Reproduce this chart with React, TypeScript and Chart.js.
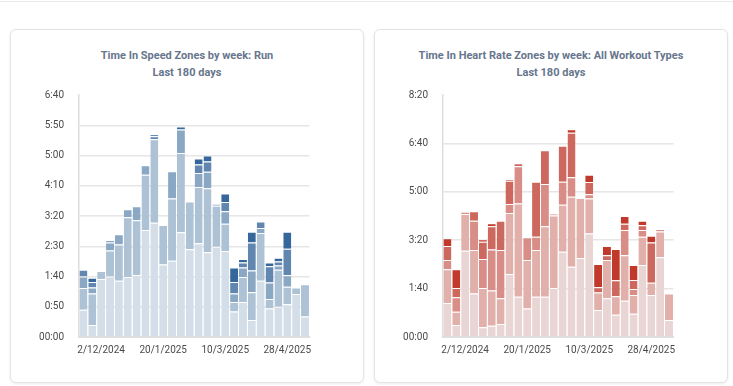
import React, { useEffect, useRef } from 'react';
import { Chart, registerables } from 'chart.js';

Chart.register(...registerables);

// Week start dates (categories)
const weekLabels = [
  '18/11/2024', '25/11/2024', '2/12/2024', '9/12/2024', '16/12/2024', '23/12/2024',
  '30/12/2024', '6/1/2025', '13/1/2025', '20/1/2025', '27/1/2025', '3/2/2025',
  '10/2/2025', '17/2/2025', '24/2/2025', '3/3/2025', '10/3/2025', '17/3/2025',
  '24/3/2025', '31/3/2025', '7/4/2025', '14/4/2025', '21/4/2025', '28/4/2025',
  '5/5/2025', '12/5/2025',
];
const shownLabels = ['2/12/2024', '20/1/2025', '10/3/2025', '28/4/2025'];

// Time in speed zones (minutes), Run
const speedZone1 = [45, 20, 96, 100, 93, 99, 102, 177, 189, 120, 126, 173, 145, 155, 140, 149, 142, 42, 58, 28, 93, 47, 50, 54, 71, 34];
const speedZone2 = [36, 52, 13, 43, 60, 99, 91, 91, 138, 65, 103, 131, 79, 93, 106, 68, 45, 16, 41, 46, 79, 16, 61, 29, 11, 53];
const speedZone3 = [19, 10, 0, 13, 17, 13, 23, 16, 0, 0, 45, 39, 0, 23, 27, 3, 21, 14, 16, 36, 8, 27, 7, 19, 0, 0];
const speedZone4 = [11, 9, 0, 4, 0, 0, 0, 0, 5, 0, 0, 0, 0, 14, 17, 0, 15, 19, 8, 46, 11, 27, 7, 44, 0, 0];
const speedZone5 = [0, 7, 0, 0, 0, 0, 0, 0, 3, 0, 0, 5, 0, 10, 10, 0, 14, 24, 6, 18, 0, 6, 6, 28, 0, 0];

// Time in heart rate zones (minutes), all workout types
const hrZone1 = [70, 25, 178, 90, 20, 23, 27, 130, 83, 59, 83, 83, 101, 176, 145, 163, 214, 56, 80, 46, 75, 48, 149, 87, 165, 35];
const hrZone2 = [70, 27, 76, 90, 81, 73, 53, 126, 193, 100, 97, 146, 150, 97, 145, 124, 72, 36, 79, 38, 94, 39, 58, 25, 53, 55];
const hrZone3 = [19, 30, 5, 60, 60, 85, 100, 19, 77, 47, 27, 87, 4, 48, 40, 0, 9, 0, 0, 0, 52, 12, 14, 0, 5, 0];
const hrZone4 = [29, 19, 0, 20, 36, 48, 60, 48, 6, 0, 114, 70, 0, 74, 92, 0, 25, 11, 10, 33, 13, 19, 10, 83, 0, 0];
const hrZone5 = [16, 39, 0, 0, 5, 6, 0, 3, 0, 0, 0, 0, 0, 0, 7, 0, 15, 48, 19, 65, 16, 31, 9, 14, 0, 0];

const speedColors = ['#d3dee8', '#adc2d5', '#8aa7c4', '#6187b0', '#36679a'];
const hrColors = ['#ead5d5', '#e1b0ab', '#d88e87', '#cc685e', '#c0392b'];

const fmt = (v: number) =>
  v === 0 ? '00:00' : `${Math.floor(v / 60)}:${String(v % 60).padStart(2, '0')}`;

const FONT = 'Roboto, "Noto Sans", sans-serif';

function StackedChart(props: {
  series: number[][];
  colors: string[];
  max: number;
  step: number;
  left: number;
}) {
  const ref = useRef<HTMLCanvasElement | null>(null);
  useEffect(() => {
    if (!ref.current) return;
    const datasets = props.series.map((d, i) => ({
      label: `Zone ${i + 1}`,
      data: d,
      backgroundColor: props.colors[i],
      borderColor: '#ffffff',
      borderWidth: { top: 1, left: 0, right: 0, bottom: 0 },
      borderSkipped: 'start' as const,
      barPercentage: 0.9,
      categoryPercentage: 1,
    }));
    const nTicks = props.max / props.step;
    const chart = new Chart(ref.current, {
      type: 'bar',
      data: { labels: weekLabels, datasets },
      options: {
        animation: false,
        responsive: false,
        maintainAspectRatio: false,
        layout: { padding: { top: 8, right: 0, bottom: 0, left: 0 } },
        plugins: {
          legend: { display: false },
          tooltip: { enabled: false },
          title: { display: false },
        },
        scales: {
          x: {
            stacked: true,
            grid: { display: false, drawTicks: false },
            border: { color: '#dedede', width: 2 },
            ticks: {
              autoSkip: false,
              maxRotation: 0,
              minRotation: 0,
              padding: 7,
              color: '#4a4a4a',
              font: { family: FONT, size: 10 },
              callback: (_v: any, i: number) =>
                shownLabels.includes(weekLabels[i]) ? weekLabels[i] : '',
            },
            afterFit: (s: any) => {
              s.height = 28;
            },
          },
          y: {
            stacked: true,
            min: 0,
            max: props.max,
            grid: {
              drawTicks: false,
              color: (ctx: any) => (ctx.index === nTicks ? 'rgba(0,0,0,0)' : '#e6e6e6'),
              lineWidth: 1.5,
            },
            border: { color: '#dedede', width: 1.5 },
            ticks: {
              stepSize: props.step,
              padding: 15,
              color: '#4a4a4a',
              font: { family: FONT, size: 10 },
              callback: (v: any) => fmt(Number(v)),
            },
            afterFit: (s: any) => {
              s.width = 69;
            },
          },
        },
      },
    });
    return () => chart.destroy();
  }, []);
  return (
    <canvas
      ref={ref}
      width={302}
      height={291}
      style={{ position: 'absolute', left: props.left, top: 74, width: 302, height: 291 }}
    />
  );
}

function Card(props: { left: number; title: string }) {
  return (
    <div
      style={{
        position: 'absolute',
        left: props.left,
        top: 29,
        width: 354,
        height: 354,
        background: '#fff',
        border: '1px solid #e4e4e4',
        borderRadius: 6,
        boxShadow: '0 1px 3px rgba(0,0,0,0.08)',
        boxSizing: 'border-box',
      }}
    >
      <div
        style={{
          position: 'absolute',
          top: 19,
          left: 0,
          right: 0,
          textAlign: 'center',
          fontFamily: FONT,
          fontWeight: 700,
          fontSize: 11,
          lineHeight: '14px',
          color: '#67768d',
        }}
      >
        {props.title}
      </div>
      <div
        style={{
          position: 'absolute',
          top: 36,
          left: 0,
          right: 0,
          textAlign: 'center',
          fontFamily: FONT,
          fontWeight: 700,
          fontSize: 11,
          lineHeight: '14px',
          color: '#67768d',
        }}
      >
        Last 180 days
      </div>
    </div>
  );
}

export default function App() {
  return (
    <div
      style={{
        position: 'fixed',
        left: 0,
        top: 0,
        width: 733,
        height: 386,
        background: '#fff',
        overflow: 'hidden',
      }}
    >
      <div style={{ position: 'absolute', left: 0, top: 1, width: 733, height: 1, background: '#e8e8e8' }} />
      <Card left={10} title="Time In Speed Zones by week: Run" />
      <Card left={374} title="Time In Heart Rate Zones by week: All Workout Types" />
      <StackedChart
        series={[speedZone1, speedZone2, speedZone3, speedZone4, speedZone5]}
        colors={speedColors}
        max={400}
        step={50}
        left={10}
      />
      <StackedChart
        series={[hrZone1, hrZone2, hrZone3, hrZone4, hrZone5]}
        colors={hrColors}
        max={500}
        step={100}
        left={374}
      />
    </div>
  );
}
